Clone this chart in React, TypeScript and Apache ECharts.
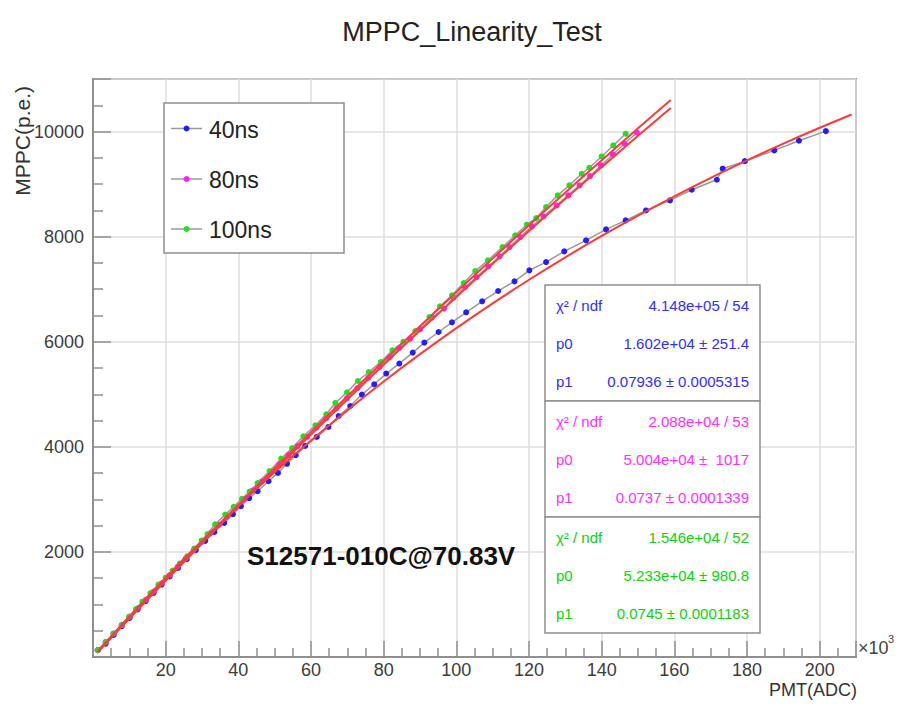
import React, { useEffect, useRef } from 'react';
import * as echarts from 'echarts';

// PMT(ADC) in units of 10^3, MPPC in p.e.
const x40 = [1.3, 3.5, 5.7, 7.9, 10.1, 12.3, 14.5, 16.7, 18.9, 21.1, 23.4, 25.8, 28.3, 30.9, 33.4, 36.1, 38.5, 40.7, 43.0, 45.3, 48.3, 50.9, 53.4, 55.8, 58.4, 61.6, 64.8, 67.6, 70.8, 74.0, 77.4, 80.7, 84.3, 88.0, 91.2, 95.1, 98.8, 102.7, 107.1, 111.5, 116.0, 120.1, 124.7, 129.7, 135.7, 141.2, 146.6, 152.2, 158.8, 164.8, 171.7, 173.3, 179.4, 187.5, 194.3, 201.7];
const y40 = [130, 255, 420, 585, 745, 905, 1065, 1222, 1378, 1533, 1695, 1862, 2035, 2210, 2381, 2552, 2718, 2870, 3025, 3155, 3345, 3503, 3676, 3840, 4017, 4188, 4378, 4587, 4777, 4994, 5190, 5394, 5584, 5793, 5983, 6185, 6369, 6560, 6769, 6965, 7149, 7358, 7516, 7720, 7929, 8138, 8309, 8499, 8690, 8893, 9083, 9293, 9437, 9641, 9825, 10008];

const x80 = [1.3, 3.5, 5.7, 7.9, 10.1, 12.3, 14.5, 16.7, 18.9, 21.1, 23.3, 25.5, 27.7, 30.0, 32.3, 34.6, 36.9, 39.2, 41.6, 44.0, 46.4, 48.8, 51.3, 53.8, 56.3, 58.9, 61.5, 64.2, 67.0, 69.9, 72.8, 75.8, 78.9, 81.6, 84.3, 87.3, 90.0, 93.3, 96.6, 99.2, 102.4, 105.6, 108.8, 111.9, 114.6, 117.6, 120.8, 124.0, 127.6, 130.8, 133.9, 136.8, 139.8, 143.1, 146.3, 149.7];
const y80 = [130, 287, 448, 609, 769, 928, 1087, 1246, 1404, 1561, 1718, 1874, 2030, 2193, 2355, 2516, 2677, 2837, 3004, 3170, 3336, 3500, 3672, 3842, 4012, 4188, 4364, 4545, 4732, 4926, 5118, 5316, 5520, 5700, 5881, 6059, 6236, 6459, 6630, 6839, 7041, 7231, 7434, 7625, 7801, 7992, 8195, 8385, 8594, 8785, 8975, 9152, 9355, 9564, 9768, 9977];

const x100 = [1.3, 3.5, 5.6, 7.9, 9.9, 11.8, 13.6, 15.8, 18.0, 20.0, 21.9, 23.9, 25.9, 27.9, 29.9, 31.5, 33.6, 36.4, 38.7, 41.0, 43.1, 45.3, 48.6, 51.8, 54.8, 57.9, 61.2, 64.2, 66.7, 69.9, 72.9, 75.9, 79.2, 82.4, 85.4, 88.7, 92.6, 95.5, 98.8, 102.0, 105.2, 108.7, 112.7, 116.2, 119.4, 122.0, 124.7, 127.9, 131.1, 134.5, 136.6, 140.0, 143.2, 146.6];
const y100 = [130, 285, 445, 612, 765, 912, 1052, 1218, 1377, 1513, 1645, 1780, 1916, 2066, 2218, 2340, 2525, 2710, 2858, 3010, 3150, 3310, 3540, 3775, 3975, 4200, 4410, 4620, 4835, 5038, 5253, 5424, 5614, 5837, 6000, 6204, 6470, 6674, 6883, 7117, 7345, 7548, 7801, 8024, 8227, 8353, 8563, 8785, 8976, 9197, 9311, 9526, 9735, 9958];

// fitted curves (red)
const fitX40 = [1.3, 10, 20, 30, 40, 50, 60, 70, 80, 90, 100, 110, 120, 130, 140, 150, 160, 170, 180, 190, 200, 208.8];
const fitY40 = [103, 774, 1511, 2212, 2880, 3515, 4119, 4694, 5242, 5763, 6258, 6730, 7179, 7606, 8013, 8400, 8768, 9119, 9452, 9770, 10072, 10325];
const fitX80 = [1.3, 10, 20, 30, 40, 50, 60, 70, 80, 90, 100, 110, 120, 130, 140, 150, 159];
const fitY80 = [96, 732, 1453, 2163, 2863, 3553, 4232, 4902, 5562, 6212, 6853, 7485, 8107, 8720, 9323, 9919, 10447];
const fitX100 = [1.3, 10, 20, 30, 40, 50, 60, 70, 80, 90, 100, 110, 120, 130, 140, 150, 159];
const fitY100 = [96, 740, 1469, 2188, 2897, 3596, 4285, 4964, 5633, 6294, 6944, 7586, 8218, 8842, 9456, 10062, 10601];

const xTickLabels = [20, 40, 60, 80, 100, 120, 140, 160, 180, 200];
const yTickLabels = [2000, 4000, 6000, 8000, 10000];

const seriesNames = ['40ns', '80ns', '100ns'];
const seriesColors = ['#1f1fff', '#ff1fff', '#1fe01f'];
const statColors = ['#3030ff', '#ff30ff', '#10d010'];

const statLabels = ['χ² / ndf', 'p0', 'p1'];
const statValues40 = ['4.148e+05 / 54', '1.602e+04 ± 251.4', '0.07936 ± 0.0005315'];
const statValues80 = ['2.088e+04 / 53', '5.004e+04 ±  1017', '0.0737 ± 0.0001339'];
const statValues100 = ['1.546e+04 / 52', '5.233e+04 ± 980.8', '0.0745 ± 0.0001183'];

const FONT = '"Liberation Sans", Arial, Helvetica, sans-serif';
const FRAME = '#8f8f8f';

function zip(xs: number[], ys: number[]) {
  return xs.map((x, i) => [x, ys[i]]);
}

function txt(text: string, x: number, y: number, size: number, fill: string, align = 'left', extra: any = {}) {
  return {
    type: 'text',
    x,
    y,
    z: 110,
    ...extra,
    style: {
      text,
      fill,
      font: `${extra.bold ? 'bold ' : ''}${size}px ${FONT}`,
      textAlign: align,
      textVerticalAlign: 'middle',
      align,
      verticalAlign: 'middle',
    },
  };
}

export default function App() {
  const ref = useRef<HTMLDivElement>(null);

  useEffect(() => {
    if (!ref.current) return;
    const chart = echarts.init(ref.current, undefined, { renderer: 'svg' });

    const dataSets = [
      [x40, y40],
      [x80, y80],
      [x100, y100],
    ];
    const fitSets = [
      [fitX40, fitY40],
      [fitX80, fitY80],
      [fitX100, fitY100],
    ];

    const series: any[] = [];
    dataSets.forEach(([xs, ys], i) => {
      series.push({
        name: seriesNames[i],
        type: 'line',
        data: zip(xs, ys),
        symbol: 'circle',
        symbolSize: 6,
        showSymbol: true,
        itemStyle: { color: seriesColors[i] },
        lineStyle: { color: '#9a9a9a', width: 1.5 },
        z: 3,
      });
    });
    fitSets.forEach(([xs, ys], i) => {
      series.push({
        name: 'fit' + i,
        type: 'line',
        data: zip(xs, ys),
        symbol: 'none',
        smooth: 0.3,
        lineStyle: { color: '#ff3a3a', width: 2 },
        z: 4,
      });
    });

    const graphics: any[] = [];
    // title
    graphics.push(txt('MPPC_Linearity_Test', 472, 32, 27, '#222', 'center'));
    // y axis title
    graphics.push({
      ...txt('MPPC(p.e.)', 22, 86, 21, '#333', 'right'),
      rotation: Math.PI / 2,
    });
    // x axis title
    graphics.push(txt('PMT(ADC)', 857, 690, 18, '#333', 'right'));
    graphics.push(txt('×10', 858, 648, 18, '#444', 'left'));
    graphics.push(txt('3', 888, 639, 11, '#444', 'left'));

    // legend
    graphics.push({
      type: 'rect',
      z: 100,
      shape: { x: 164, y: 103, width: 180, height: 150 },
      style: { fill: '#ffffff', stroke: FRAME, lineWidth: 1.5 },
    });
    const legY = [128.5, 179, 229];
    seriesNames.forEach((n, i) => {
      graphics.push({
        type: 'line',
        z: 105,
        shape: { x1: 171, y1: legY[i], x2: 202, y2: legY[i] },
        style: { stroke: '#9a9a9a', lineWidth: 1.5 },
      });
      graphics.push({
        type: 'circle',
        z: 106,
        shape: { cx: 186.5, cy: legY[i], r: 3 },
        style: { fill: seriesColors[i] },
      });
      graphics.push(txt(n, 209, legY[i] + 1, 23, '#222', 'left'));
    });

    // label on plot
    graphics.push(txt('S12571-010C@70.83V', 247, 556, 26, '#111', 'left', { bold: true }));

    // stats boxes
    const boxTops = [285, 401, 517];
    const boxH = 116;
    const statSets = [statValues40, statValues80, statValues100];
    const rowOff = [20, 58, 96];
    boxTops.forEach((top, i) => {
      graphics.push({
        type: 'rect',
        z: 100,
        shape: { x: 545, y: top, width: 215, height: boxH },
        style: { fill: '#ffffff', stroke: FRAME, lineWidth: 1.5 },
      });
      statLabels.forEach((l, j) => {
        graphics.push(txt(l, 556, top + rowOff[j], 15, statColors[i], 'left'));
        graphics.push(txt(statSets[i][j], 749, top + rowOff[j], 15, statColors[i], 'right'));
      });
    });

    const option: any = {
      animation: false,
      backgroundColor: '#ffffff',
      grid: {
        left: 93,
        right: 41,
        top: 79,
        bottom: 50,
        show: true,
        borderColor: FRAME,
        borderWidth: 2,
        backgroundColor: 'transparent',
      },
      xAxis: {
        type: 'value',
        min: 0,
        max: 210,
        interval: 20,
        axisLine: { show: true, lineStyle: { color: FRAME, width: 2 } },
        axisTick: { show: true, inside: true, length: 16, lineStyle: { color: FRAME, width: 1.5 } },
        minorTick: { show: true, splitNumber: 4, length: 9, lineStyle: { color: FRAME, width: 1.5 } },
        splitLine: { show: true, lineStyle: { color: '#dedede', width: 1.5 } },
        axisLabel: {
          margin: 4,
          fontSize: 18,
          color: '#3c3c3c',
          fontFamily: FONT,
          formatter: (v: number) => (xTickLabels.indexOf(Math.round(v)) >= 0 ? String(Math.round(v)) : ''),
        },
      },
      yAxis: {
        type: 'value',
        min: 0,
        max: 11000,
        interval: 2000,
        axisLine: { show: true, lineStyle: { color: FRAME, width: 2 } },
        axisTick: { show: true, inside: true, length: 18, lineStyle: { color: FRAME, width: 1.5 } },
        minorTick: { show: true, splitNumber: 4, length: 10, lineStyle: { color: FRAME, width: 1.5 } },
        splitLine: { show: true, lineStyle: { color: '#dedede', width: 1.5 } },
        axisLabel: {
          margin: 9,
          fontSize: 18,
          color: '#3c3c3c',
          fontFamily: FONT,
          formatter: (v: number) => (yTickLabels.indexOf(Math.round(v)) >= 0 ? String(Math.round(v)) : ''),
        },
      },
      series,
      graphic: { elements: graphics },
    };

    chart.setOption(option);
    return () => {
      chart.dispose();
    };
  }, []);

  return (
    <div
      ref={ref}
      style={{ position: 'absolute', left: 0, top: 0, width: 897, height: 707, background: '#fff' }}
    />
  );
}
